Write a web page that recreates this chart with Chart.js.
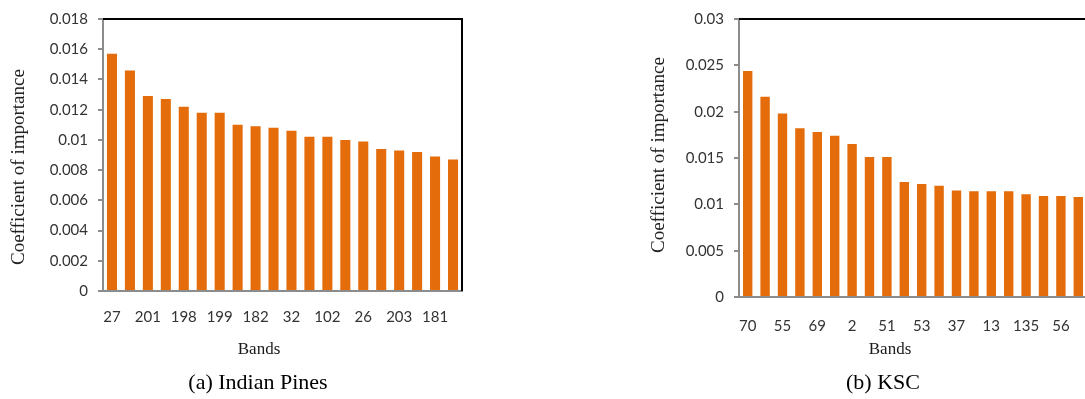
<!DOCTYPE html>
<html>
<head>
<meta charset="utf-8">
<script src="https://cdn.jsdelivr.net/npm/chart.js@4/dist/chart.umd.min.js"></script>
<style>
  html, body { margin: 0; padding: 0; background: #fff; }
  body { width: 1085px; height: 399px; position: relative; overflow: hidden; }
  .box { position: absolute; top: 0; height: 399px; }
  .serif { position: absolute; font-family: "Liberation Serif", "Times New Roman", serif; color: #1a1a1a; white-space: nowrap; }
  .ytitle { font-size: 19px; transform: translate(-50%, -50%) rotate(-90deg); }
  .xtitle { font-size: 17px; transform: translate(-50%, -50%); }
  .caption { font-size: 22px; transform: translate(-50%, -50%); color: #000; }
</style>
</head>
<body>
<div class="box" id="boxA" style="left:0; width:480px;"><canvas id="chartA"></canvas></div>
<div class="box" id="boxB" style="left:640px; width:460px;"><canvas id="chartB"></canvas></div>

<div class="serif ytitle" style="left:18px; top:167px;">Coefficient of importance</div>
<div class="serif xtitle" style="left:259px; top:349px;">Bands</div>
<div class="serif caption" style="left:258px; top:382px;">(a) Indian Pines</div>

<div class="serif ytitle" style="left:658px; top:155px;">Coefficient of importance</div>
<div class="serif xtitle" style="left:890px; top:349px;">Bands</div>
<div class="serif caption" style="left:883px; top:382px;">(b) KSC</div>

<script>
// Indian Pines: top 20 bands ranked by importance (only every other band number is labelled)
const pinesBands = ['27', '', '201', '', '198', '', '199', '', '182', '',
                    '32', '', '102', '', '26', '', '203', '', '181', ''];
const pinesImportance = [0.0157, 0.0146, 0.0129, 0.0127, 0.0122, 0.0118, 0.0118, 0.0110, 0.0109, 0.0108,
                         0.0106, 0.0102, 0.0102, 0.0100, 0.0099, 0.0094, 0.0093, 0.0092, 0.0089, 0.0087];
const pinesTicks = ['0', '0.002', '0.004', '0.006', '0.008', '0.01', '0.012', '0.014', '0.016', '0.018'];

// KSC: top 20 bands ranked by importance
const kscBands = ['70', '', '55', '', '69', '', '2', '', '51', '',
                  '53', '', '37', '', '13', '', '135', '', '56', ''];
const kscImportance = [0.0244, 0.0216, 0.0198, 0.0182, 0.0178, 0.0174, 0.0165, 0.0151, 0.0151, 0.0124,
                       0.0122, 0.0120, 0.0115, 0.0114, 0.0114, 0.0114, 0.0111, 0.0109, 0.0109, 0.0108];
const kscTicks = ['0', '0.005', '0.01', '0.015', '0.02', '0.025', '0.03'];

const BAR = '#E46C0A';
const AXIS_GREY = '#8C8C8C';
const TICK_TEXT = '#333333';

// black frame along the top and right edges of the plot area
const frameEdges = {
  id: 'frameEdges',
  afterDatasetsDraw(chart) {
    const { ctx, chartArea: a } = chart;
    ctx.save();
    ctx.strokeStyle = '#000';
    ctx.lineWidth = 2;
    ctx.beginPath();
    ctx.moveTo(a.left, a.top);
    ctx.lineTo(a.right, a.top);
    ctx.lineTo(a.right, a.bottom);
    ctx.stroke();
    ctx.restore();
  }
};

function makeChart(canvasId, bands, values, tickLabels, step, layout) {
  const yMax = step * (tickLabels.length - 1);
  return new Chart(document.getElementById(canvasId), {
    type: 'bar',
    data: {
      labels: bands,
      datasets: [{ data: values, backgroundColor: BAR, borderWidth: 0,
                   categoryPercentage: 1, barPercentage: layout.barPct }]
    },
    options: {
      responsive: true,
      maintainAspectRatio: false,
      animation: false,
      events: [],
      layout: { padding: { top: 19, right: layout.padRight, bottom: 0, left: 0 } },
      plugins: { legend: { display: false }, tooltip: { enabled: false } },
      scales: {
        x: {
          grid: { display: false, drawTicks: false },
          border: { display: true, color: AXIS_GREY, width: 2 },
          ticks: { autoSkip: false, maxRotation: 0, padding: layout.xPad, color: TICK_TEXT,
                   font: { family: 'Lato', size: 15 } },
          afterFit(scale) { scale.height = layout.xHeight; }
        },
        y: {
          min: 0,
          max: yMax,
          grid: { drawOnChartArea: false, drawTicks: true, tickLength: 5, color: AXIS_GREY, lineWidth: 2 },
          border: { display: true, color: AXIS_GREY, width: 2 },
          ticks: {
            stepSize: step,
            padding: 10,
            color: TICK_TEXT,
            font: { family: 'Lato', size: 15 },
            callback: (v, i) => tickLabels[i]
          },
          afterFit(scale) { scale.width = layout.yWidth; }
        }
      }
    },
    plugins: [frameEdges]
  });
}

makeChart('chartA', pinesBands, pinesImportance, pinesTicks, 0.002,
          { yWidth: 103, padRight: 18, barPct: 0.56, xHeight: 108, xPad: 17 });
makeChart('chartB', kscBands, kscImportance, kscTicks, 0.005,
          { yWidth: 99, padRight: 13, barPct: 0.54, xHeight: 102, xPad: 20 });
</script>
</body>
</html>
